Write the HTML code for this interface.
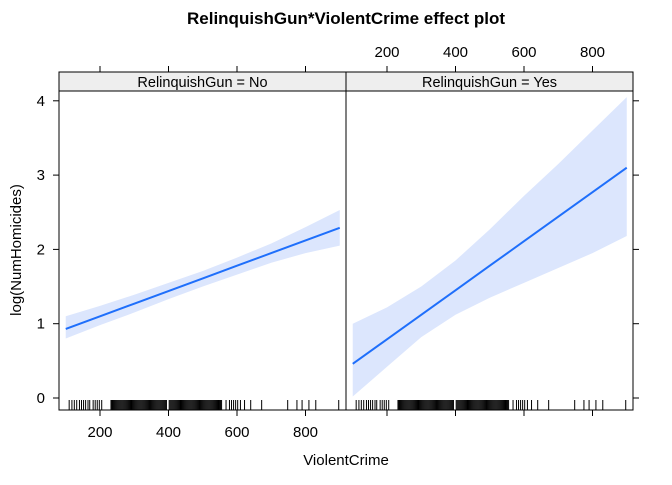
<!DOCTYPE html>
<html><head><meta charset="utf-8"><style>
body{margin:0;background:#fff}
svg text{font-family:"Liberation Sans",Arial,sans-serif}
</style></head><body>
<svg id="c" width="672" height="480" xmlns="http://www.w3.org/2000/svg">
<text x="346" y="24" text-anchor="middle" font-size="17" font-weight="bold">RelinquishGun*ViolentCrime effect plot</text>
<text x="346" y="465" text-anchor="middle" font-size="15">ViolentCrime</text>
<text transform="translate(21,250) rotate(-90)" text-anchor="middle" font-size="15">log(NumHomicides)</text>
<g id="g"></g>
</svg>
<script>
const panels=["RelinquishGun = No","RelinquishGun = Yes"];
const xPts=[100,200,300,400,500,600,700,800,900];
const fitNo=[0.93,1.1,1.27,1.44,1.61,1.78,1.95,2.12,2.29];
const upNo=[1.1,1.24,1.39,1.55,1.71,1.89,2.08,2.3,2.53];
const loNo=[0.8,0.98,1.15,1.33,1.5,1.66,1.82,1.95,2.05];
const fitYes=[0.46,0.79,1.12,1.45,1.78,2.11,2.44,2.77,3.1];
const upYes=[1.0,1.22,1.5,1.85,2.27,2.72,3.15,3.6,4.05];
const loYes=[0.02,0.42,0.82,1.12,1.35,1.55,1.75,1.95,2.18];
const xTicks=[200,400,600,800];
const yTicks=[0,1,2,3,4];
const rug=[110,118,125,132,140,146,152,158,165,170,180,186,192,198,205,
232,235,238,241,244,247,250,253,256,259,262,265,268,271,274,277,280,283,286,289,292,295,298,301,304,307,310,313,316,319,322,325,328,331,334,337,340,343,346,349,352,355,358,361,364,367,370,373,376,379,382,385,388,391,394,
402,405,408,411,414,417,420,423,426,429,432,435,438,441,444,447,450,453,456,459,462,465,468,471,474,477,480,483,486,489,492,495,498,501,504,507,510,513,516,519,522,525,528,531,534,537,540,543,546,549,552,555,
568,578,584,590,596,602,610,622,640,672,748,775,790,810,830,897];
const NS="http://www.w3.org/2000/svg",g=document.getElementById('g');
function mk(t,a){const e=document.createElementNS(NS,t);for(const k in a)e.setAttribute(k,a[k]);g.appendChild(e);return e;}
const P0=59,PW=287,TOP=72,STRIP=19,BOT=410;
function xs(v,p){return 100+(v-200)*0.3425+p*PW;}
function ys(v){return 398-v*74.3;}
const sets=[[fitNo,upNo,loNo],[fitYes,upYes,loYes]];
panels.forEach((lab,p)=>{
  const x0=P0+p*PW;
  const s=mk('rect',{x:x0,y:TOP,width:PW,height:STRIP,fill:'#eeeeee',stroke:'#000','stroke-width':1});
  
  
  const t=mk('text',{x:x0+PW/2,y:TOP+15,'text-anchor':'middle','font-size':14.5});t.textContent=lab;
  
  
  const [f,u,l]=sets[p];
  let d='M'+xPts.map((v,i)=>xs(v,p)+','+ys(u[i])).join('L');
  d+='L'+xPts.slice().reverse().map((v,i)=>xs(v,p)+','+ys(l[l.length-1-i])).join('L')+'Z';
  const b=mk('path',{d:d,fill:'#dce6fd',stroke:'none'});
  
  
  const ln=mk('polyline',{points:xPts.map((v,i)=>xs(v,p)+','+ys(f[i])).join(' '),fill:'none',stroke:'#1f6ffb','stroke-width':2});
  
  
  rug.forEach(v=>{const r=mk('line',{x1:xs(v,p),x2:xs(v,p),y1:400,y2:410,stroke:'#000','stroke-width':1});
    
    });
  xTicks.forEach(v=>{const x=xs(v,p);
    const a=mk('line',{x1:x,x2:x,y1:BOT,y2:BOT+6,stroke:'#000'});
    
    
    const c=mk('line',{x1:x,x2:x,y1:TOP,y2:TOP-6,stroke:'#000'});
    
    
    const tl=mk('text',{x:x,y:p?57:437,'text-anchor':'middle','font-size':15});tl.textContent=v;
    
    });
  const fr=mk('rect',{x:x0,y:TOP,width:PW,height:BOT-TOP,fill:'none',stroke:'#000','stroke-width':1});
  
  
});
yTicks.forEach(v=>{const y=ys(v);
  const a=mk('line',{x1:P0-6,x2:P0,y1:y,y2:y,stroke:'#000'});
  
  
  const b=mk('line',{x1:P0+2*PW,x2:P0+2*PW+6,y1:y,y2:y,stroke:'#000'});
  
  
  const t=mk('text',{x:45,y:y+5,'text-anchor':'end','font-size':15});t.textContent=v;
  
  });
</script>
</body></html>
